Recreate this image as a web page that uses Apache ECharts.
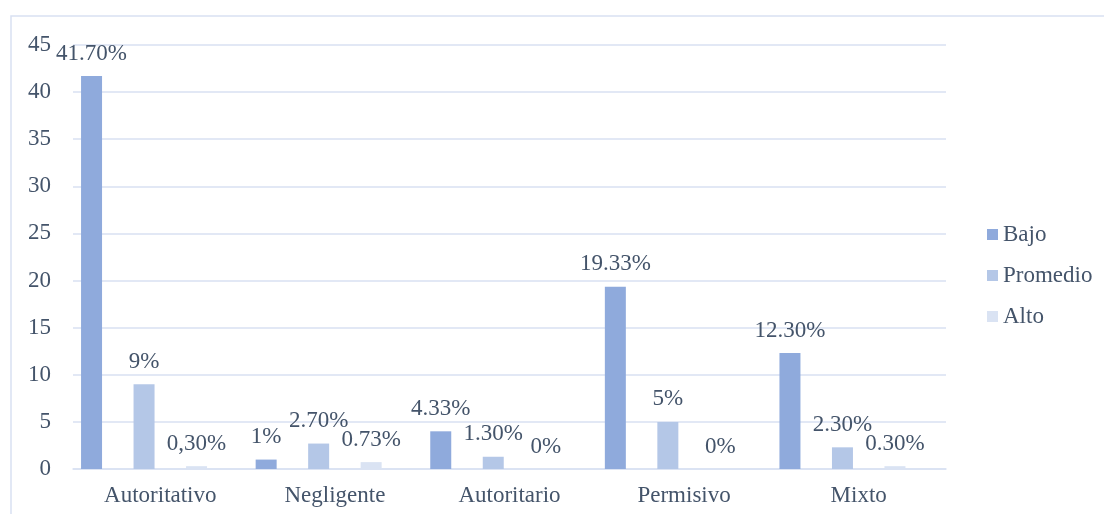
<!DOCTYPE html>
<html>
<head>
<meta charset="utf-8">
<title>Estilos</title>
<script src="https://cdn.jsdelivr.net/npm/echarts@6/dist/echarts.min.js"></script>
<style>
  html, body { margin: 0; padding: 0; background: #fff; }
  #chart { width: 1104px; height: 514px; }
</style>
</head>
<body>
<div id="chart"></div>
<script>
  const categories = ['Autoritativo', 'Negligente', 'Autoritario', 'Permisivo', 'Mixto']
  const seriesNames = ['Bajo', 'Promedio', 'Alto']

  // bar heights
  const bajo = [41.7, 1, 4, 19.33, 12.3]
  const promedio = [9, 2.7, 1.3, 5, 2.3]
  const alto = [0.3, 0.73, 0, 0, 0.3]

  // label texts exactly as printed on the chart
  const bajoLabels = ['41.70%', '1%', '4.33%', '19.33%', '12.30%']
  const promedioLabels = ['9%', '2.70%', '1.30%', '5%', '2.30%']
  const altoLabels = ['0,30%', '0.73%', '0%', '0%', '0.30%']

  const yTicks = [0, 5, 10, 15, 20, 25, 30, 35, 40, 45]

  const colors = ['#8faadc', '#b4c7e7', '#dae3f3']
  const font = '"Liberation Serif", "Times New Roman", serif'
  const fontSize = 23
  const textColor = '#44546a'
  const lineColor = '#d9e1f2'

  function barSeries(name, values, labels, color) {
    return {
      name: name,
      type: 'bar',
      barWidth: 21,
      barGap: '150%',
      itemStyle: { color: color },
      label: {
        show: true,
        position: 'top',
        distance: 11,
        fontFamily: font,
        fontSize: fontSize,
        color: textColor,
        formatter: function (p) {
          return labels[p.dataIndex]
        }
      },
      data: values
    }
  }

  const chart = echarts.init(document.getElementById('chart'))
  chart.setOption({
    animation: false,
    textStyle: { fontFamily: font },
    graphic: [{
      type: 'rect',
      shape: { x: 11, y: 16, width: 1200, height: 600 },
      style: { fill: 'none', stroke: lineColor, lineWidth: 1.5 },
      silent: true
    }],
    legend: {
      data: seriesNames,
      orient: 'vertical',
      left: 982,
      top: 218,
      itemWidth: 11,
      itemHeight: 11,
      itemGap: 18,
      icon: 'rect',
      textStyle: { fontFamily: font, fontSize: fontSize, color: textColor }
    },
    grid: {
      left: 73,
      right: 158,
      top: 45,
      bottom: 45,
      containLabel: false
    },
    xAxis: {
      type: 'category',
      data: categories,
      axisTick: { show: false },
      axisLine: { lineStyle: { color: lineColor, width: 1.5 } },
      axisLabel: {
        margin: 15,
        fontFamily: font,
        fontSize: fontSize,
        color: textColor,
        interval: 0
      }
    },
    yAxis: {
      type: 'value',
      min: yTicks[0],
      max: yTicks[yTicks.length - 1],
      interval: 5,
      axisLine: { show: false },
      axisTick: { show: false },
      splitLine: { lineStyle: { color: lineColor, width: 1.5 } },
      axisLabel: {
        margin: 22,
        fontFamily: font,
        fontSize: fontSize,
        color: textColor
      }
    },
    series: [
      barSeries('Bajo', bajo, bajoLabels, colors[0]),
      barSeries('Promedio', promedio, promedioLabels, colors[1]),
      barSeries('Alto', alto, altoLabels, colors[2]),
      // empty slot: the original leaves room after the third bar in every group
      { name: 'spacer', type: 'bar', barWidth: 0.01, barGap: '150%', silent: true, data: [] }
    ]
  })
</script>
</body>
</html>
